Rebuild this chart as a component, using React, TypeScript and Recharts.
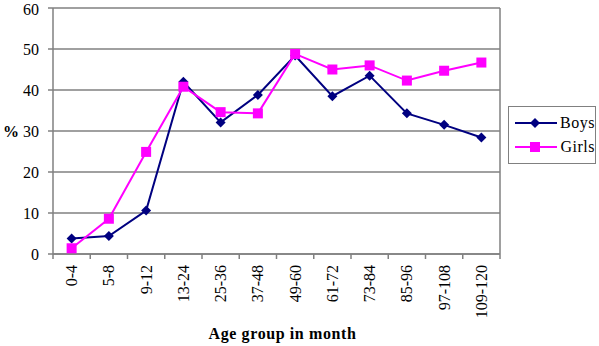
import React from 'react';
import { LineChart, Line, XAxis, YAxis, CartesianGrid, ReferenceLine } from 'recharts';

const ageGroups = ['0-4', '5-8', '9-12', '13-24', '25-36', '37-48', '49-60', '61-72', '73-84', '85-96', '97-108', '109-120'];
const boys = [3.8, 4.4, 10.6, 42.0, 32.1, 38.8, 48.4, 38.5, 43.5, 34.3, 31.5, 28.4];
const girls = [1.4, 8.6, 24.9, 40.8, 34.6, 34.3, 48.8, 45.0, 46.0, 42.3, 44.7, 46.7];
const yTicks = [0, 10, 20, 30, 40, 50, 60];
const edgeTicks = [0, 1, 2, 3, 4, 5, 6, 7, 8, 9, 10, 11, 12];

const data = ageGroups.map((age, i) => ({ age, pos: i + 0.5, boys: boys[i], girls: girls[i] }));

const W = 599;
const H = 346;
const PLOT_LEFT = 53;
const PLOT_RIGHT = 500;
const STEP = (PLOT_RIGHT - PLOT_LEFT) / ageGroups.length;
const FONT = '"Liberation Serif", "Times New Roman", serif';
const NAVY = '#000080';
const MAGENTA = '#FF00FF';
const GRAY = '#808080';

const Diamond = (props: any) => {
  const { cx, cy, key } = props;
  if (cx == null || cy == null) return null;
  const r = 5;
  return <path key={key} d={`M${cx},${cy - r}L${cx + r},${cy}L${cx},${cy + r}L${cx - r},${cy}Z`} fill={NAVY} />;
};

const Square = (props: any) => {
  const { cx, cy, key } = props;
  if (cx == null || cy == null) return null;
  return <rect key={key} x={cx - 5} y={cy - 5} width={10} height={10} fill={MAGENTA} />;
};

const AgeTick = (props: any) => {
  const { x, y, payload } = props;
  const label = ageGroups[payload.value];
  if (!label) return null;
  const cx = x + STEP / 2;
  const top = y + 4;
  return (
    <text x={cx} y={top} transform={`rotate(-90, ${cx}, ${top})`} textAnchor="end" dominantBaseline="central"
      style={{ fontFamily: FONT }} fontSize={16} fill="#000">
      {label}
    </text>
  );
};

const LegendBox = () => (
  <div style={{ position: 'absolute', left: 508, top: 106, width: 88, height: 58, border: `1px solid ${GRAY}`, background: '#fff', fontFamily: FONT, fontSize: 16, boxSizing: 'border-box', paddingTop: 4 }}>
    {[{ name: 'Boys', color: NAVY, dot: 'diamond' }, { name: 'Girls', color: MAGENTA, dot: 'square' }].map((s) => (
      <div key={s.name} style={{ display: 'flex', alignItems: 'center', height: 24 }}>
        <svg width={48} height={14} style={{ marginLeft: 4 }}>
          <line x1={2} y1={7} x2={44} y2={7} stroke={s.color} strokeWidth={2} />
          {s.dot === 'diamond'
            ? <path d="M22,2L27,7L22,12L17,7Z" fill={s.color} />
            : <rect x={17} y={2} width={10} height={10} fill={s.color} />}
        </svg>
        <span style={{ letterSpacing: 0.5 }}>{s.name}</span>
      </div>
    ))}
  </div>
);

export default function App() {
  return (
    <div style={{ position: 'absolute', left: 0, top: 0, width: W, height: H, background: '#fff', fontFamily: FONT }}>
      <LineChart width={W} height={H} data={data} margin={{ top: 8, right: W - PLOT_RIGHT, bottom: 0, left: 0 }}>
        <CartesianGrid vertical={false} stroke={GRAY} strokeWidth={1.5} />
        <XAxis
          dataKey="pos"
          type="number"
          domain={[0, 12]}
          ticks={edgeTicks}
          interval={0}
          height={92}
          stroke={GRAY}
          strokeWidth={1.5}
          tickSize={5}
          tick={<AgeTick />}
          label={{ value: 'Age group in month', position: 'insideBottom', offset: 7, dx: 6, style: { fontFamily: FONT, letterSpacing: 0.6 }, fontSize: 16, fontWeight: 'bold', fill: '#000' }}
        />
        <YAxis
          domain={[0, 60]}
          ticks={yTicks}
          width={PLOT_LEFT}
          stroke={GRAY}
          strokeWidth={1.5}
          tickSize={5}
          tickMargin={9}
          tick={{ style: { fontFamily: FONT }, fontSize: 16, fill: '#000' }}
          label={{ value: '%', position: 'insideLeft', offset: 3, style: { fontFamily: FONT }, fontSize: 16, fontWeight: 'bold', fill: '#000' }}
        />
        <ReferenceLine x={12} stroke={GRAY} strokeWidth={1.5} />
        <Line dataKey="boys" name="Boys" stroke={NAVY} strokeWidth={2} dot={<Diamond />} activeDot={false} isAnimationActive={false} />
        <Line dataKey="girls" name="Girls" stroke={MAGENTA} strokeWidth={2} dot={<Square />} activeDot={false} isAnimationActive={false} />
      </LineChart>
      <LegendBox />
    </div>
  );
}
